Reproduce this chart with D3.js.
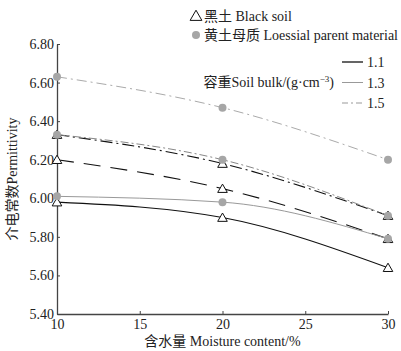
<!DOCTYPE html>
<html>
<head>
<meta charset="utf-8">
<script src="https://cdn.jsdelivr.net/npm/d3@7"></script>
<style>
  body { margin: 0; background: #fff; }
  text { font-family: "Liberation Serif", "Noto Sans CJK SC", serif; fill: #222; }
</style>
</head>
<body>
<svg width="401" height="351"></svg>
<script>
const moisture = [10, 20, 30];
const yTicks = [5.40, 5.60, 5.80, 6.00, 6.20, 6.40, 6.60, 6.80];
const xTicks = [10, 15, 20, 25, 30];
const bulkLabels = ["1.1", "1.3", "1.5"];

// 黑土 Black soil
const black11 = [5.98, 5.90, 5.64];
const black13 = [6.20, 6.05, 5.79];
const black15 = [6.33, 6.18, 5.91];
// 黄土母质 Loessial parent material
const loess11 = [6.01, 5.98, 5.79];
const loess13 = [6.33, 6.20, 5.91];
const loess15 = [6.63, 6.47, 6.20];

const svg = d3.select("svg");
const margin = { left: 57, right: 13, top: 44, bottom: 37 };
const width = +svg.attr("width");
const height = +svg.attr("height");

const x = d3.scaleLinear().domain([10, 30]).range([margin.left, width - margin.right]);
const y = d3.scaleLinear().domain([5.4, 6.8]).range([height - margin.bottom, margin.top]);

const series = [
  { soil: "black", vals: black11, color: "#111", width: 1.1, dash: null },
  { soil: "black", vals: black13, color: "#111", width: 1.1, dash: "17,10" },
  { soil: "black", vals: black15, color: "#111", width: 1.1, dash: "12,4,2,4" },
  { soil: "loess", vals: loess11, color: "#999", width: 1, dash: null },
  { soil: "loess", vals: loess13, color: "#888", width: 1, dash: "8,3,2,3" },
  { soil: "loess", vals: loess15, color: "#aaa", width: 1, dash: "10,4,2,4" }
];

const line = d3.line()
  .x((d, i) => x(moisture[i]))
  .y(d => y(d))
  .curve(d3.curveMonotoneX);

svg.append("g")
  .selectAll("path")
  .data(series)
  .join("path")
  .attr("d", d => line(d.vals))
  .attr("fill", "none")
  .attr("stroke", d => d.color)
  .attr("stroke-width", d => d.width)
  .attr("stroke-dasharray", d => d.dash);

// axes
const xAxis = svg.append("g")
  .attr("transform", `translate(0,${height - margin.bottom})`)
  .call(d3.axisBottom(x).tickValues(xTicks).tickSizeInner(-3).tickSizeOuter(0).tickPadding(5));
const yAxis = svg.append("g")
  .attr("transform", `translate(${margin.left},0)`)
  .call(d3.axisLeft(y).tickValues(yTicks).tickFormat(d3.format(".2f")).tickSizeInner(-3).tickSizeOuter(0).tickPadding(3));

[xAxis, yAxis].forEach(a => {
  a.select(".domain").attr("stroke", "#444").attr("stroke-width", 1.3);
  a.selectAll(".tick line").attr("stroke", "#444");
  a.selectAll("text").style("font-size", "14px").style("font-family", "Liberation Serif, serif").attr("fill", "#222");
});

// markers
const tri = d3.symbol().type(d3.symbolTriangle).size(40);
series.filter(s => s.soil === "black").forEach(s => {
  svg.append("g").selectAll("path")
    .data(s.vals)
    .join("path")
    .attr("d", tri)
    .attr("transform", (d, i) => `translate(${x(moisture[i])},${y(d) + 1})`)
    .attr("fill", "#fff")
    .attr("stroke", "#111")
    .attr("stroke-width", 1);
});
series.filter(s => s.soil === "loess").forEach(s => {
  svg.append("g").selectAll("circle")
    .data(s.vals)
    .join("circle")
    .attr("cx", (d, i) => x(moisture[i]))
    .attr("cy", d => y(d))
    .attr("r", 4)
    .attr("fill", "#a6a6a6");
});

// axis titles
svg.append("text")
  .attr("x", (margin.left + width - margin.right) / 2)
  .attr("y", 346)
  .attr("text-anchor", "middle")
  .style("font-size", "14px")
  .text("含水量 Moisture content/%");

svg.append("text")
  .attr("transform", `translate(17,${(margin.top + height - margin.bottom) / 2}) rotate(-90)`)
  .attr("text-anchor", "middle")
  .style("font-size", "14px")
  .text("介电常数Permittivity");

// soil legend
const legend = svg.append("g");
legend.append("path")
  .attr("d", d3.symbol().type(d3.symbolTriangle).size(60))
  .attr("transform", "translate(196,17)")
  .attr("fill", "#fff").attr("stroke", "#111");
legend.append("text").attr("x", 204).attr("y", 21).style("font-size", "14px").text("黑土 Black soil");
legend.append("circle").attr("cx", 196).attr("cy", 35).attr("r", 4).attr("fill", "#a6a6a6");
legend.append("text").attr("x", 204).attr("y", 40).style("font-size", "14px").text("黄土母质 Loessial parent material");

// bulk density legend
const bulkStyles = [
  { color: "#111", width: 1.3, dash: null },
  { color: "#999", width: 1, dash: null },
  { color: "#999", width: 1, dash: "6,3,2,3" }
];
bulkLabels.forEach((lab, i) => {
  const yy = 62 + i * 20.5;
  legend.append("line")
    .attr("x1", 342).attr("x2", 363).attr("y1", yy).attr("y2", yy)
    .attr("stroke", bulkStyles[i].color)
    .attr("stroke-width", bulkStyles[i].width)
    .attr("stroke-dasharray", bulkStyles[i].dash);
  legend.append("text").attr("x", 367).attr("y", yy + 5).style("font-size", "14px").text(lab);
});
const bulkText = legend.append("text").attr("x", 334).attr("y", 87).attr("text-anchor", "end").style("font-size", "14px");
bulkText.append("tspan").text("容重Soil bulk/(g·cm");
bulkText.append("tspan").attr("dy", -5).style("font-size", "9px").text("−3");
bulkText.append("tspan").attr("dy", 5).text(")");
</script>
</body>
</html>
